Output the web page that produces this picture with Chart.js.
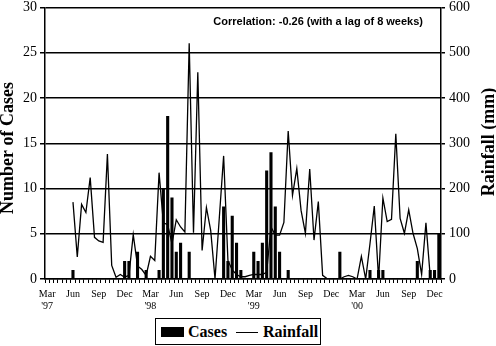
<!DOCTYPE html>
<html>
<head>
<meta charset="utf-8">
<script src="https://cdn.jsdelivr.net/npm/chart.js@4"></script>
<style>
  body { margin: 0; background: #fff; }
  #wrap { position: relative; width: 496px; height: 346px; }
  #legend {
    position: absolute; left: 155px; top: 318px; width: 164px; height: 25px;
    border: 1.5px solid #000; background: #fff;
    font: bold 16px "Liberation Serif", serif; color: #000;
  }
  #legend span { position: absolute; }
  .txt { top: 0; line-height: 26px; }
</style>
</head>
<body>
<div id="wrap">
  <canvas id="chart" width="496" height="346"></canvas>
  <div id="legend">
    <span style="left:5px; top:8px; width:23px; height:10px; background:#000;"></span>
    <span class="txt" style="left:32px;">Cases</span>
    <span style="left:80px; top:12.5px; width:22px; height:1.5px; background:#000;"></span>
    <span class="txt" style="left:107px;">Rainfall</span>
  </div>
</div>
<script>
// half-month periods, Mar 1997 .. Dec 2000
const months = ['Jan','Feb','Mar','Apr','May','Jun','Jul','Aug','Sep','Oct','Nov','Dec'];
const periods = [];
for (let y = 1997; y <= 2000; y++) {
    for (let m = (y === 1997 ? 2 : 0); m < 12; m++) {
        periods.push(months[m] + ' ' + y + ' (1)');
        periods.push(months[m] + ' ' + y + ' (2)');
    }
}

// tick labels every 6 periods (quarterly)
const monthTicks = ['Mar','Jun','Sep','Dec','Mar','Jun','Sep','Dec','Mar','Jun','Sep','Dec','Mar','Jun','Sep','Dec'];
const yearTicks = ["'97",'','','',"'98",'','','',"'99",'','','',"'00",'','',''];

const cases = [
    0,0,0,0,0,0,1,0,0,0,0,0,
    0,0,0,0,0,0,2,2,0,3,0,1,
    0,0,1,10,18,9,3,4,0,3,0,0,
    0,0,0,0,0,8,2,7,4,1,0,0,
    3,2,4,12,14,8,3,0,1,0,0,0,
    0,0,0,0,0,0,0,0,3,0,0,0,
    0,0,0,1,0,1,1,0,0,0,0,0,
    0,0,2,0,0,1,1,5
];

const rainfall = [
    null,null,null,null,null,null,170,49,165,147,224,92,
    84,81,276,30,4,10,4,8,98,29,21,8,
    50,41,235,124,120,78,131,115,104,521,102,457,
    63,158,107,0,136,272,41,20,10,5,5,8,
    10,10,10,15,115,97,97,125,327,185,244,151,
    101,243,86,171,8,1,0,0,0,5,8,5,
    0,50,0,78,161,0,179,127,132,321,134,101,
    153,101,67,10,124,5,null,null
];

const caseTicks = [0, 5, 10, 15, 20, 25, 30];
const rainTicks = [0, 100, 200, 300, 400, 500, 600];

const serif = '"Liberation Serif", "Times New Roman", serif';

const extraText = {
    id: 'extraText',
    afterDraw(chart) {
        const ctx = chart.ctx;
        const area = chart.chartArea;
        ctx.save();
        ctx.fillStyle = '#000';
        ctx.font = 'bold 11px "Liberation Sans", Arial, sans-serif';
        ctx.textAlign = 'right';
        ctx.textBaseline = 'middle';
        ctx.fillText('Correlation: -0.26 (with a lag of 8 weeks)', area.right - 18, area.top + 14);

        ctx.font = 'bold 18px ' + serif;
        ctx.textAlign = 'center';
        ctx.save();
        ctx.translate(8, 148);
        ctx.rotate(-Math.PI / 2);
        ctx.fillText('Number of Cases', 0, 0);
        ctx.restore();
        ctx.save();
        ctx.translate(489, 142);
        ctx.rotate(-Math.PI / 2);
        ctx.fillText('Rainfall (mm)', 0, 0);
        ctx.restore();
        ctx.restore();
    }
};

new Chart(document.getElementById('chart'), {
    type: 'bar',
    data: {
        labels: periods,
        datasets: [{
            type: 'line',
            label: 'Rainfall',
            data: rainfall,
            yAxisID: 'y1',
            borderColor: '#000',
            borderWidth: 1.3,
            pointRadius: 0,
            tension: 0,
            spanGaps: false,
            order: 0
        }, {
            label: 'Cases',
            data: cases,
            yAxisID: 'y',
            backgroundColor: '#000',
            barPercentage: 0.72,
            categoryPercentage: 1,
            order: 1
        }]
    },
    options: {
        responsive: false,
        animation: false,
        devicePixelRatio: 1,
        layout: { padding: { top: 0 } },
        plugins: {
            legend: { display: false },
            tooltip: { enabled: false }
        },
        scales: {
            x: {
                offset: true,
                grid: { display: true, drawOnChartArea: false, offset: true, color: '#000', tickLength: 4, lineWidth: 1 },
                border: { display: true, color: '#000', width: 1.5 },
                ticks: {
                    autoSkip: false, maxRotation: 0, minRotation: 0, padding: 6,
                    color: '#000',
                    font: { family: serif, size: 10, lineHeight: 1.15 },
                    callback: (v, i) => i % 6 === 0 ? [monthTicks[i / 6], yearTicks[i / 6]] : ''
                },
                afterFit: s => { s.height = 67; }
            },
            y: {
                position: 'left',
                min: 0, max: 30,
                afterBuildTicks: s => { s.ticks = caseTicks.map(v => ({ value: v })); },
                grid: { color: '#000', lineWidth: 1.5, tickLength: 5 },
                border: { display: true, color: '#000', width: 1.5 },
                ticks: { color: '#000', padding: 3, font: { family: serif, size: 14, lineHeight: 0.5 } },
                afterFit: s => { s.width = 45; }
            },
            y1: {
                position: 'right',
                min: 0, max: 600,
                afterBuildTicks: s => { s.ticks = rainTicks.map(v => ({ value: v })); },
                grid: { drawOnChartArea: false, color: '#000', lineWidth: 1.5, tickLength: 4 },
                border: { display: true, color: '#000', width: 1.5 },
                ticks: { color: '#000', padding: 4, font: { family: serif, size: 14, lineHeight: 0.5 } },
                afterFit: s => { s.width = 55; }
            }
        }
    },
    plugins: [extraText]
});
</script>
</body>
</html>
